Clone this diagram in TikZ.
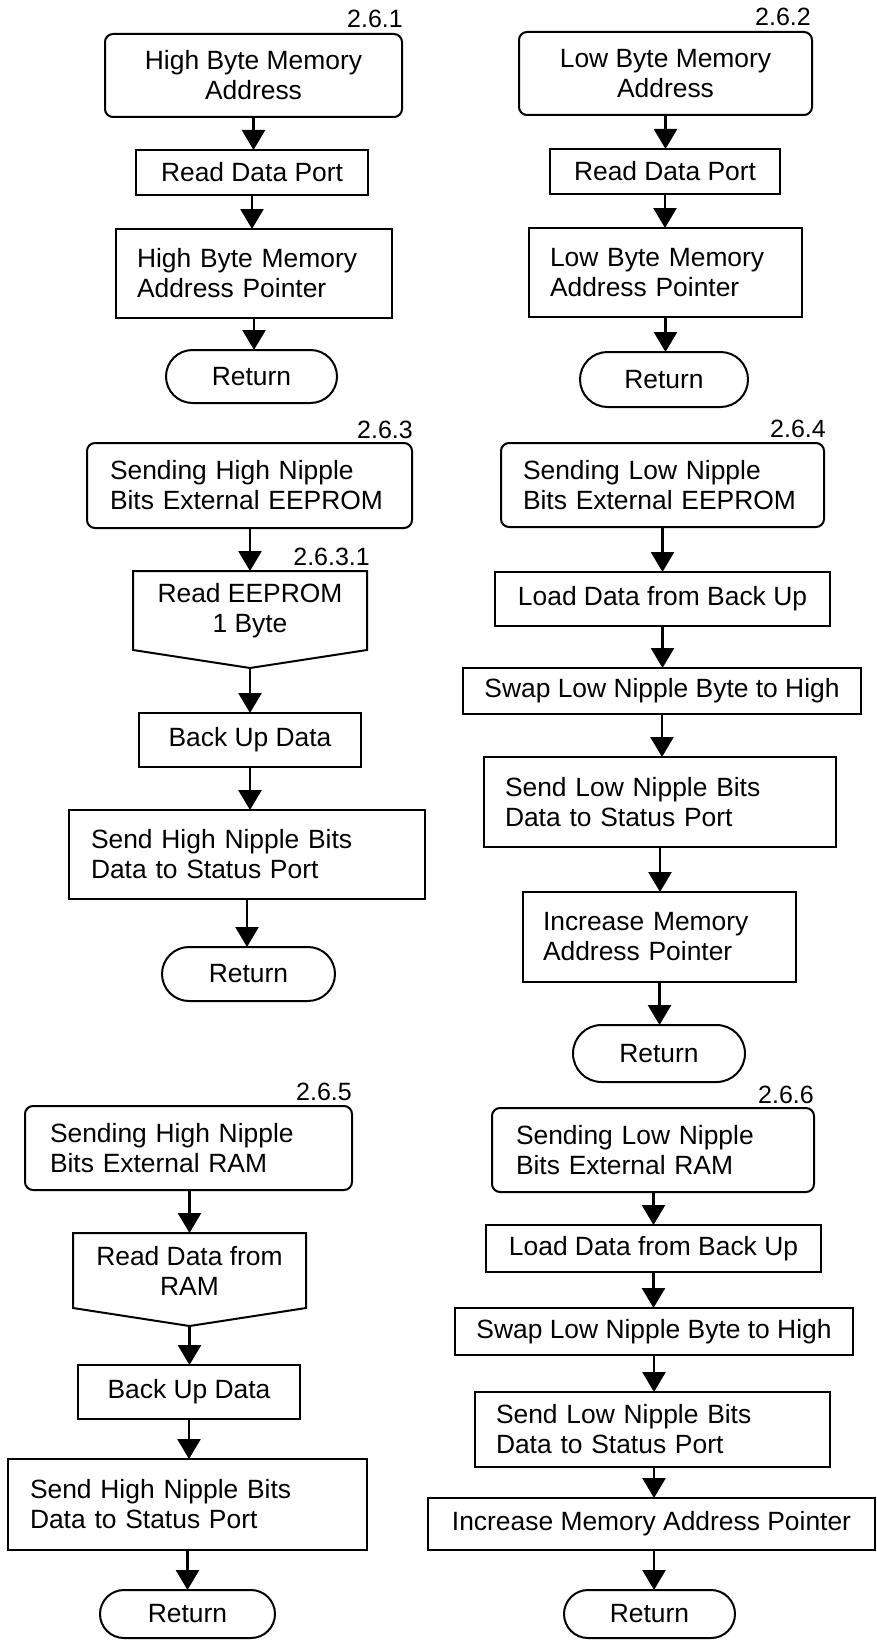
\documentclass[tikz,border=0pt]{standalone}
\usepackage{fontspec}
\setmainfont{Liberation Sans}
\usetikzlibrary{arrows.meta,calc,shapes.misc}
\begin{document}
\begin{tikzpicture}[x=1pt,y=-1pt,
  every node/.style={font=\fontsize{26.4}{30}\selectfont},
  box/.style n args={4}{minimum width={#2pt-#1pt}, minimum height={#4pt-#3pt}, at={({(#1+#2)/2},{(#3+#4)/2})}},
  proc/.style={draw, line width=2pt, inner ysep=0pt, outer sep=0pt, align=center},
  rproc/.style={proc, rounded corners=8pt},
  pent/.style={inner ysep=0pt, outer sep=0pt, align=center},
  term/.style={draw, line width=2pt, rounded rectangle, inner sep=0pt, outer sep=0pt},
  lbl/.style={font=\fontsize{25}{30}\selectfont, anchor=base east, inner sep=0pt},
  arr/.style={line width=2.6pt, -{Triangle[width=23pt,length=20pt]}},
  pline/.style={line width=2pt, line join=miter},
]
\fill[white] (0,0) rectangle (876,1640);
\useasboundingbox (0,0) rectangle (876,1640);

% ---------- 2.6.1 ----------
\node[lbl] (l1) at (403,28) {2.6.1};
\node[rproc, box={105}{402}{34}{117}] (a1) {High Byte Memory\\Address};
\node[proc, box={136}{368}{150}{195}] (a2) {Read Data Port};
\node[proc, box={116}{392}{229}{318}, align=left, inner xsep=21pt, text width=234pt] (a3) {High Byte Memory\\Address Pointer};
\node[term, box={166}{337}{350}{403}] (a4) {Return};
\draw[arr] (a1.south) -- (a1.south |- a2.north);
\draw[arr] (a2.south) -- (a2.south |- a3.north);
\draw[arr] (a3.south) -- (a3.south |- a4.north);

% ---------- 2.6.2 ----------
\node[lbl] (l2) at (811,26) {2.6.2};
\node[rproc, box={519}{812}{32}{115}] (b1) {Low Byte Memory\\Address};
\node[proc, box={550}{780}{149}{194}] (b2) {Read Data Port};
\node[proc, box={529}{802}{228}{317}, align=left, inner xsep=21pt, text width=231pt] (b3) {Low Byte Memory\\Address Pointer};
\node[term, box={580}{748}{352}{407}] (b4) {Return};
\draw[arr] (b1.south) -- (b1.south |- b2.north);
\draw[arr] (b2.south) -- (b2.south |- b3.north);
\draw[arr] (b3.south) -- (b3.south |- b4.north);

% ---------- 2.6.3 ----------
\node[lbl] (l3) at (413,438) {2.6.3};
\node[rproc, box={87}{412}{443}{528}, align=left, inner xsep=23pt, text width=279pt] (c1) {Sending High Nipple\\Bits External EEPROM};
\node[lbl] (l31) at (370,565) {2.6.3.1};
\node[pent, box={133}{367}{571}{650}] (c2) {Read EEPROM\\1 Byte};
\coordinate (c2t) at ($(c2.south)+(0,18)$);
\draw[pline] (c2.north west) -- (c2.north east) -- (c2.south east) -- (c2t) -- (c2.south west) -- cycle;
\node[proc, box={139}{361}{713}{767}] (c3) {Back Up Data};
\node[proc, box={69}{425}{810}{899}, align=left, inner xsep=22pt, text width=312pt] (c4) {Send High Nipple Bits\\Data to Status Port};
\node[term, box={162}{335}{947}{1001}] (c5) {Return};
\draw[arr] (c1.south -| c2.north) -- (c2.north);
\draw[arr] (c2t) -- (c2t |- c3.north);
\draw[arr] (c3.south) -- (c3.south |- c4.north);
\draw[arr] (c4.south) -- (c4.south |- c5.north);

% ---------- 2.6.4 ----------
\node[lbl] (l4) at (826,437) {2.6.4};
\node[rproc, box={501}{824}{443}{527}, align=left, inner xsep=22pt, text width=279pt] (d1) {Sending Low Nipple\\Bits External EEPROM};
\node[proc, box={495}{830}{572}{626}] (d2) {Load Data from Back Up};
\node[proc, box={463}{861}{668}{714}] (d3) {Swap Low Nipple Byte to High};
\node[proc, box={484}{836}{757}{847}, align=left, inner xsep=21pt, text width=310pt] (d4) {Send Low Nipple Bits\\Data to Status Port};
\node[proc, box={523}{796}{892}{982}, align=left, inner xsep=20pt, text width=233pt] (d5) {Increase Memory\\Address Pointer};
\node[term, box={573}{745}{1025}{1082}] (d6) {Return};
\draw[arr] (d1.south) -- (d1.south |- d2.north);
\draw[arr] (d2.south) -- (d2.south |- d3.north);
\draw[arr] (d3.south) -- (d3.south |- d4.north);
\draw[arr] (d4.south) -- (d4.south |- d5.north);
\draw[arr] (d5.south) -- (d5.south |- d6.north);

% ---------- 2.6.5 ----------
\node[lbl] (l5) at (352,1100) {2.6.5};
\node[rproc, box={25}{352}{1106}{1190}, align=left, inner xsep=25pt, text width=277pt] (e1) {Sending High Nipple\\Bits External RAM};
\node[pent, box={73}{306}{1233}{1308}] (e2) {Read Data from\\RAM};
\coordinate (e2t) at ($(e2.south)+(0,18)$);
\draw[pline] (e2.north west) -- (e2.north east) -- (e2.south east) -- (e2t) -- (e2.south west) -- cycle;
\node[proc, box={78}{300}{1365}{1419}] (e3) {Back Up Data};
\node[proc, box={8}{367}{1459}{1550}, align=left, inner xsep=22pt, text width=315pt] (e4) {Send High Nipple Bits\\Data to Status Port};
\node[term, box={100}{275}{1590}{1638}] (e5) {Return};
\draw[arr] (e1.south -| e2.north) -- (e2.north);
\draw[arr] (e2t) -- (e2t |- e3.north);
\draw[arr] (e3.south) -- (e3.south |- e4.north);
\draw[arr] (e4.south) -- (e4.south |- e5.north);

% ---------- 2.6.6 ----------
\node[lbl] (l6) at (814,1103) {2.6.6};
\node[rproc, box={492}{814}{1108}{1192}, align=left, inner xsep=24pt, text width=274pt] (f1) {Sending Low Nipple\\Bits External RAM};
\node[proc, box={486}{821}{1225}{1272}] (f2) {Load Data from Back Up};
\node[proc, box={455}{853}{1308}{1355}] (f3) {Swap Low Nipple Byte to High};
\node[proc, box={475}{830}{1392}{1467}, align=left, inner xsep=21pt, text width=313pt] (f4) {Send Low Nipple Bits\\Data to Status Port};
\node[proc, box={428}{875}{1498}{1550}] (f5) {Increase Memory Address Pointer};
\node[term, box={564}{735}{1590}{1638}] (f6) {Return};
\draw[arr] (f1.south -| f2.north) -- (f2.north);
\draw[arr] (f2.south) -- (f2.south |- f3.north);
\draw[arr] (f3.south) -- (f3.south |- f4.north);
\draw[arr] (f4.south -| f3.south) -- (f3.south |- f5.north);
\draw[arr] (f5.south -| f3.south) -- (f3.south |- f6.north);
\end{tikzpicture}
\end{document}
